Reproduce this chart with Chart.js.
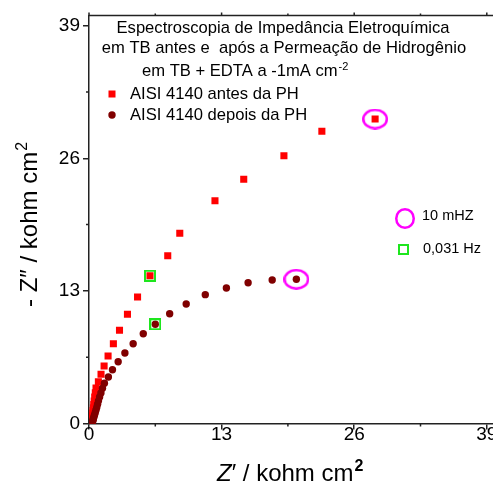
<!DOCTYPE html>
<html>
<head>
<meta charset="utf-8">
<script src="https://cdn.jsdelivr.net/npm/chart.js@4.4.1/dist/chart.umd.min.js"></script>
<style>
  html, body { margin: 0; padding: 0; background: #fff; overflow: hidden; }
  #eis { display: block; }
</style>
</head>
<body>
<canvas id="eis" width="511" height="485"></canvas>
<script>
// Nyquist points (kohm cm2), high frequency first, last point = 10 mHz
const antesRe = [0.29, 0.30, 0.31, 0.32, 0.33, 0.35, 0.37, 0.40, 0.43, 0.47, 0.51, 0.56, 0.62, 0.69, 0.92, 1.18, 1.48, 1.87, 2.39, 2.99, 3.77, 4.76, 5.98, 7.72, 8.90, 12.35, 15.17, 19.11, 22.83, 28.05];
const antesIm = [0.05, 0.15, 0.28, 0.43, 0.60, 0.80, 1.03, 1.28, 1.55, 1.85, 2.20, 2.60, 3.00, 3.48, 4.10, 4.82, 5.64, 6.62, 7.82, 9.14, 10.71, 12.40, 14.49, 16.45, 18.65, 21.84, 23.94, 26.25, 28.65, 29.85];
const depoisRe = [0.30, 0.32, 0.35, 0.39, 0.43, 0.48, 0.54, 0.61, 0.68, 0.76, 0.84, 0.93, 1.04, 1.17, 1.32, 1.51, 1.90, 2.30, 2.86, 3.52, 4.33, 5.32, 6.50, 7.91, 9.53, 11.40, 13.47, 15.60, 17.96, 20.33];
const depoisIm = [0.02, 0.09, 0.19, 0.31, 0.46, 0.63, 0.83, 1.05, 1.30, 1.57, 1.88, 2.22, 2.60, 3.00, 3.45, 3.94, 4.56, 5.27, 6.06, 6.91, 7.82, 8.80, 9.73, 10.76, 11.72, 12.63, 13.28, 13.80, 14.07, 14.14];

// index of the 0,031 Hz point in each series
const idx031Antes = 22;
const idx031Depois = 22;

const majorTicks = [0, 13, 26, 39];
const minorTicks = [6.5, 19.5, 32.5];

const FONT = '"Liberation Sans", Arial, sans-serif';
const AXIS = '#222';

const toPoints = (re, im) => re.map((v, i) => ({ x: v, y: im[i] }));
const antes = toPoints(antesRe, antesIm);
const depois = toPoints(depoisRe, depoisIm);

// hollow marker images used as point styles for the highlighted frequencies
function ringImage(w, h, color, lw) {
  const c = document.createElement('canvas');
  c.width = w; c.height = h;
  const g = c.getContext('2d');
  g.strokeStyle = color; g.lineWidth = lw;
  g.beginPath();
  g.ellipse(w / 2, h / 2, w / 2 - lw / 2, h / 2 - lw / 2, 0, 0, Math.PI * 2);
  g.stroke();
  return c;
}
function boxImage(s, color, lw) {
  const c = document.createElement('canvas');
  c.width = s; c.height = s;
  const g = c.getContext('2d');
  g.strokeStyle = color; g.lineWidth = lw;
  g.strokeRect(lw / 2, lw / 2, s - lw, s - lw);
  return c;
}
const ring = ringImage(26, 21, '#ff00ff', 2.5);
const box = boxImage(12, '#1ee61e', 2);

const setTicks = list => scale => { scale.ticks = list.map(v => ({ value: v })); };

// frame, minor ticks, title block, legends and axis titles
const decor = {
  id: 'decor',
  afterDraw(chart) {
    const ctx = chart.ctx, a = chart.chartArea;
    const sx = chart.scales.x, sy = chart.scales.y;
    ctx.save();
    ctx.strokeStyle = AXIS;
    ctx.lineWidth = 1.5;
    ctx.beginPath();
    ctx.moveTo(a.left, a.top); ctx.lineTo(a.right, a.top);
    minorTicks.forEach(v => {
      const px = sx.getPixelForValue(v);
      ctx.moveTo(px, a.bottom); ctx.lineTo(px, a.bottom + 3);
      ctx.moveTo(px, a.top); ctx.lineTo(px, a.top - 2);
      const py = sy.getPixelForValue(v);
      ctx.moveTo(a.left, py); ctx.lineTo(a.left - 3, py);
    });
    majorTicks.forEach(v => {
      const px = sx.getPixelForValue(v);
      ctx.moveTo(px, a.top); ctx.lineTo(px, a.top - 3);
    });
    ctx.stroke();

    ctx.fillStyle = '#000';
    ctx.textBaseline = 'alphabetic';

    // title block
    ctx.font = '16.6px ' + FONT;
    ctx.textAlign = 'center';
    ctx.fillText('Espectroscopia de Impedância Eletroquímica', 283, 33);
    ctx.fillText('em TB antes e  após a Permeação de Hidrogênio', 284, 53);
    ctx.textAlign = 'left';
    const l3 = 'em TB + EDTA a -1mA cm';
    ctx.fillText(l3, 142, 76);
    const w3 = ctx.measureText(l3).width;
    ctx.font = '11px ' + FONT;
    ctx.fillText('-2', 142 + w3 + 1, 70);

    // series legend
    ctx.fillStyle = '#ff0000';
    ctx.fillRect(112 - 3.5, 94 - 3.5, 7, 7);
    ctx.fillStyle = '#800000';
    ctx.beginPath(); ctx.arc(112, 115, 3.7, 0, Math.PI * 2); ctx.fill();
    ctx.fillStyle = '#000';
    ctx.font = '16.6px ' + FONT;
    ctx.fillText('AISI 4140 antes da PH', 130, 99);
    ctx.fillText('AISI 4140 depois da PH', 130, 120);

    // frequency key
    ctx.drawImage(ringImage(20, 21, '#ff00ff', 2.5), 395, 208);
    ctx.drawImage(boxImage(11, '#1ee61e', 2), 398, 244);
    ctx.font = '14.5px ' + FONT;
    ctx.fillText('10 mHZ', 422, 220);
    ctx.fillText('0,031 Hz', 423, 253);

    // x axis title
    ctx.font = 'italic 24px ' + FONT;
    ctx.fillText('Z', 217, 481);
    let cx = 217 + ctx.measureText('Z').width;
    ctx.font = '24px ' + FONT;
    const xt = '\u2032 / kohm cm';
    ctx.fillText(xt, cx, 481);
    cx += ctx.measureText(xt).width;
    ctx.font = 'bold 16px ' + FONT;
    ctx.fillText('2', cx + 1, 471);

    // y axis title
    ctx.translate(37, 307);
    ctx.rotate(-Math.PI / 2);
    ctx.font = '24px ' + FONT;
    const yt = '- Z\u2033 / kohm cm';
    const yw = ctx.measureText(yt).width;
    ctx.fillText(yt, 0, 0);
    ctx.font = '16px ' + FONT;
    ctx.fillText('2', yw + 1, -10);
    ctx.restore();
  }
};

const scaleBase = (max) => ({
  type: 'linear',
  min: 0,
  max: max,
  border: { display: true, color: AXIS, width: 1.5 },
  grid: { display: true, drawOnChartArea: false, drawTicks: true, tickLength: 6, color: AXIS, lineWidth: 1.5 },
  ticks: { color: '#000', font: { family: FONT, size: 19 }, autoSkip: false, maxRotation: 0 }
});

const xScale = scaleBase(40);
xScale.afterBuildTicks = setTicks(majorTicks);
xScale.afterFit = s => { s.height = 61.5; };
xScale.ticks.padding = -6.5;

const yScale = scaleBase(40);
yScale.afterBuildTicks = setTicks(majorTicks);
yScale.afterFit = s => { s.width = 89; };
yScale.ticks.padding = 3;

new Chart(document.getElementById('eis'), {
  type: 'scatter',
  data: {
    datasets: [
      {
        label: 'f marks 10 mHz',
        data: [antes[antes.length - 1], depois[depois.length - 1]],
        pointStyle: ring, pointRadius: 13, order: -2
      },
      {
        label: 'f marks 0,031 Hz',
        data: [antes[idx031Antes], depois[idx031Depois]],
        pointStyle: box, pointRadius: 6, order: -1
      },
      {
        label: 'AISI 4140 depois da PH',
        data: depois,
        pointStyle: 'circle', pointRadius: 3.7, borderWidth: 0,
        backgroundColor: '#800000', borderColor: '#800000', order: 0
      },
      {
        label: 'AISI 4140 antes da PH',
        data: antes,
        pointStyle: 'rect', pointRadius: 5, borderWidth: 0,
        backgroundColor: '#ff0000', borderColor: '#ff0000', order: 1
      }
    ]
  },
  options: {
    responsive: false,
    devicePixelRatio: 1,
    animation: false,
    layout: { padding: { top: 15.5, right: 5, left: 0, bottom: 0 } },
    plugins: { legend: { display: false }, tooltip: { enabled: false } },
    scales: { x: xScale, y: yScale }
  },
  plugins: [decor]
});
</script>
</body>
</html>
